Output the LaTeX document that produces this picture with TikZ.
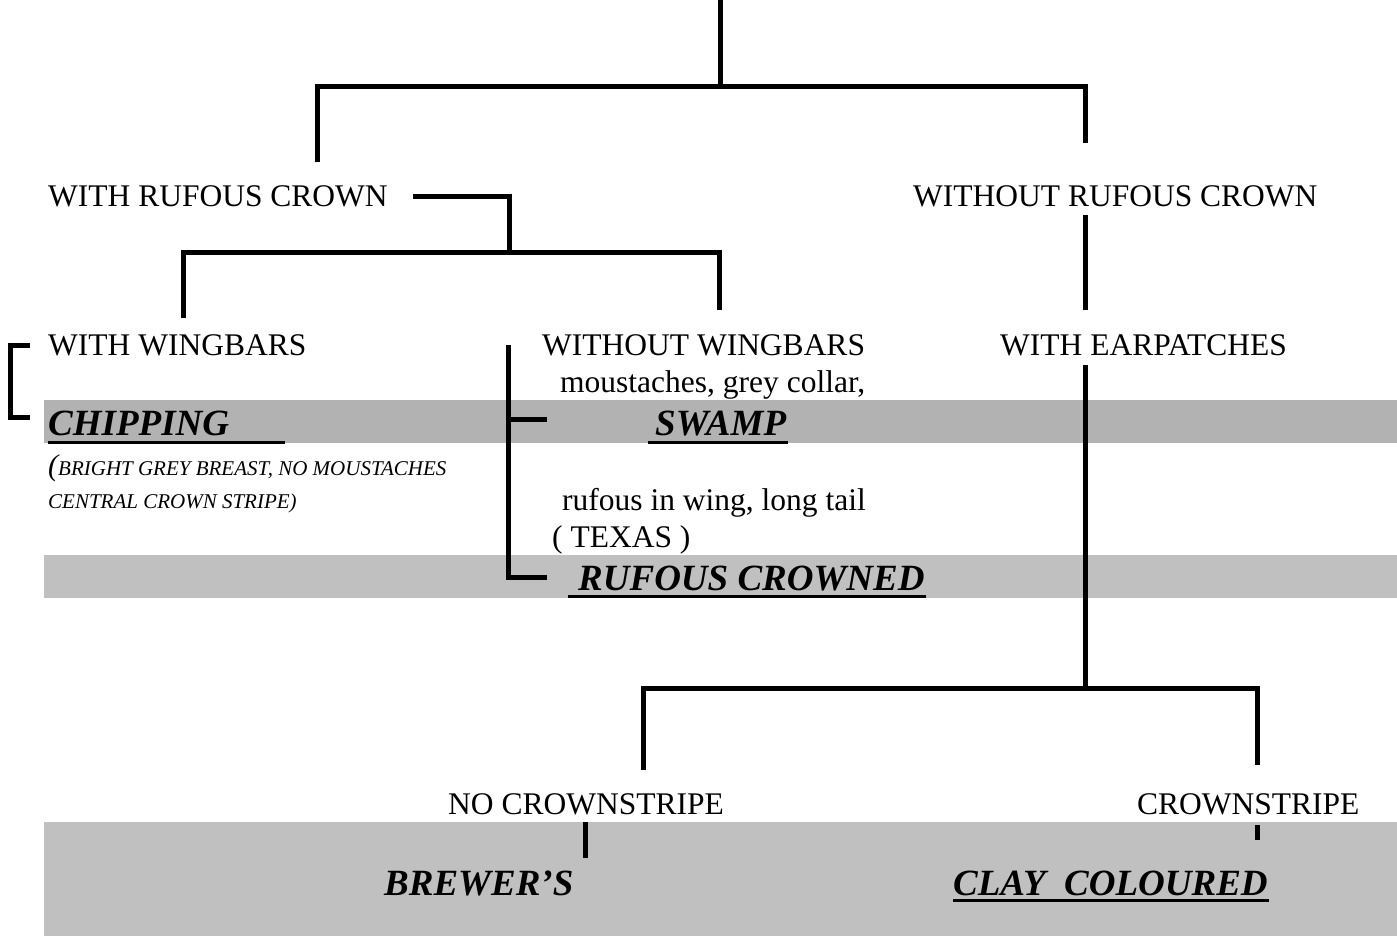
\documentclass[tikz,border=0pt]{standalone}
\usepackage{fontspec}
\setmainfont{Liberation Serif}
\definecolor{bandA}{RGB}{178,178,178}
\definecolor{bandB}{RGB}{192,192,192}
\begin{document}
\begin{tikzpicture}[x=1pt,y=-1pt,
  conn/.style={line width=5pt},
  lbl/.style={anchor=base west,inner sep=0pt,font=\fontsize{31.5}{36}\selectfont},
  sp/.style={anchor=base west,inner sep=0pt,font=\fontsize{37}{42}\selectfont\bfseries\itshape},
  note/.style={anchor=base west,inner sep=0pt,font=\fontsize{21}{25}\selectfont\itshape},
  ul/.style={line width=3pt}]
\useasboundingbox (0,0) rectangle (1397,936);
% bands
\fill[bandA] (44,400) rectangle (1397,443);
\fill[bandB] (44,555) rectangle (1397,598);
\fill[bandB] (44,822) rectangle (1397,936);
% labels
\node[lbl] (wrc) at (48,207) {WITH RUFOUS CROWN};
\node[lbl] (wor) at (913,207) {WITHOUT RUFOUS CROWN};
\node[lbl] (ww) at (48,355) {WITH WINGBARS};
\node[lbl] (wow) at (542,355) {WITHOUT WINGBARS};
\node[lbl] (wep) at (1000,355) {WITH EARPATCHES};
\node[lbl] (mou) at (560,392) {moustaches, grey collar,};
\node[sp] (chip) at (48,435) {CHIPPING};
\node[sp] (swamp) at (655,435) {SWAMP};
\node[note] (n1) at (48,475) {{\fontsize{30}{30}\selectfont(}BRIGHT GREY BREAST, NO MOUSTACHES};
\node[note] (n2) at (48,508) {CENTRAL CROWN STRIPE)};
\node[lbl] (ruf) at (562,510) {rufous in wing, long tail};
\node[lbl] (tex) at (552,547) {( TEXAS )};
\node[sp] (rc) at (578,590) {RUFOUS CROWNED};
\node[lbl] (ncs) at (448,814) {NO CROWNSTRIPE};
\node[lbl] (cs) at (1137,814) {CROWNSTRIPE};
\node[sp] (brew) at (384,895) {BREWER’S};
\node[sp] (clay) at (953,895) {CLAY\ \ COLOURED};
% underlines
\draw[ul] ([yshift=-7pt]chip.base west) -- ++(237,0);
\draw[ul] ([shift={(-7pt,-7pt)}]swamp.base west) -- ([shift={(2pt,-7pt)}]swamp.base east);
\draw[ul] ([shift={(-10pt,-6pt)}]rc.base west) -- ([shift={(1pt,-6pt)}]rc.base east);
\draw[ul] ([shift={(0pt,-5pt)}]clay.base west) -- ([shift={(1pt,-5pt)}]clay.base east);
% connectors
\coordinate (root) at (720,0);
\coordinate (j1) at (720,87);
\draw[conn] (root) -- (j1);
\draw[conn] (317,162) -- (317,87) -- (1085,87) -- (1085,143);
\draw[conn] (413,197) -- (509,197) -- (509,252);
\draw[conn] (183,318) -- (183,252) -- (719,252) -- (719,310);
\draw[conn] (1085,215) -- (1085,310);
\draw[conn] (30,345) -- (10,345) -- (10,417) -- (30,417);
\draw[conn] (508,345) -- (508,577) -- (547,577);
\draw[conn] (508,419) -- (547,419);
\draw[conn] (1085,365) -- (1085,688);
\draw[conn] (643,770) -- (643,688) -- (1257,688) -- (1257,765);
\draw[conn] (585,822) -- (585,858);
\draw[conn] (1257,825) -- (1257,840);
\end{tikzpicture}
\end{document}
